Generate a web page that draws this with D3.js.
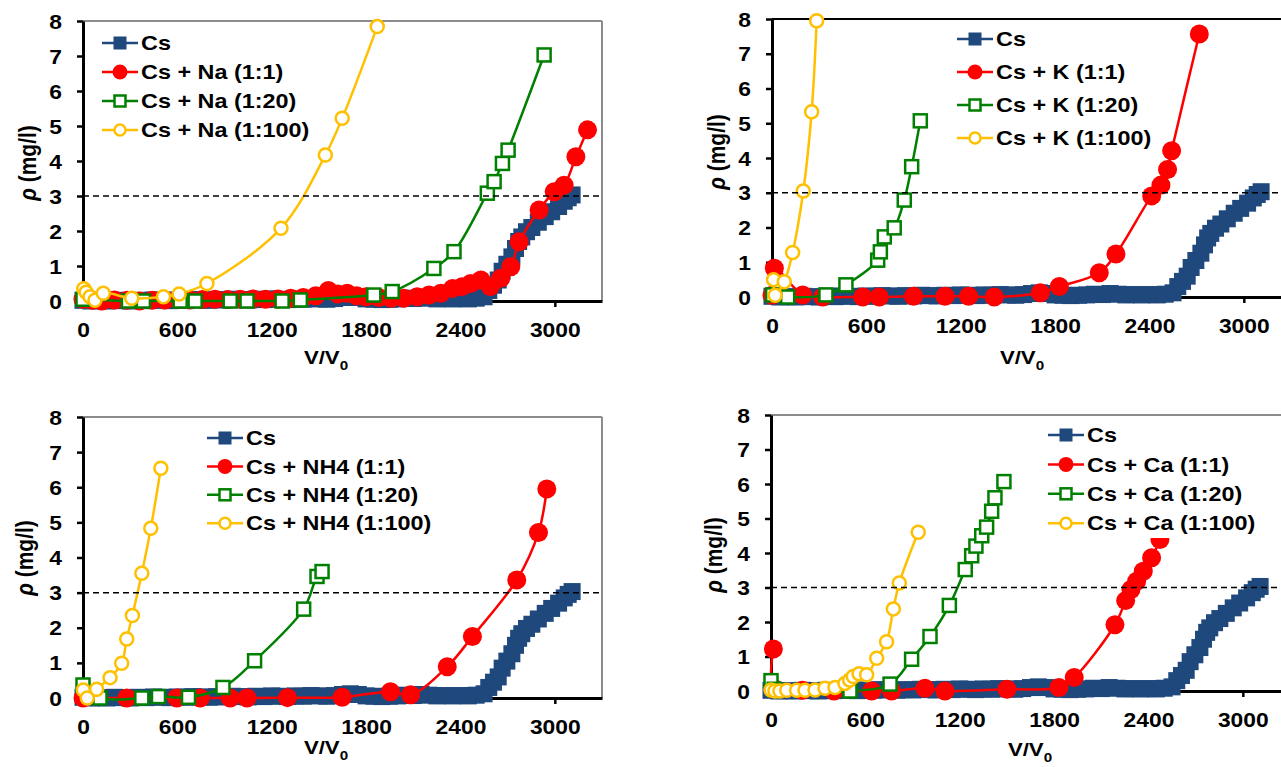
<!DOCTYPE html>
<html>
<head>
<meta charset="utf-8">
<script src="https://cdn.jsdelivr.net/npm/d3@7"></script>
<style>
  body { margin: 0; background: #fff; }
  svg text { font-family: "Liberation Sans", Arial, sans-serif; font-weight: bold; fill: #000; }
</style>
</head>
<body>
<svg id="chart" width="1281" height="767"></svg>
<script>
// the source picture is stretched a little horizontally, text follows that
const SX = 1.17;

const xTicks = [0, 600, 1200, 1800, 2400, 3000];
const yTicks = [0, 1, 2, 3, 4, 5, 6, 7, 8];
const limitLine = 3;

// Cs alone (same reference run in every panel)
const cs = [[0,0.02],[50,0],[100,0.01],[150,0],[200,0.02],[250,0.01],[300,0],[350,0.02],[400,0.01],[450,0.03],
  [500,0.02],[550,0.01],[600,0.03],[650,0.02],[700,0.04],[750,0.03],[800,0.02],[850,0.04],[900,0.03],[950,0.05],
  [1000,0.04],[1050,0.03],[1100,0.05],[1150,0.04],[1200,0.06],[1250,0.05],[1300,0.04],[1350,0.06],[1400,0.05],
  [1450,0.07],[1500,0.06],[1550,0.05],[1600,0.07],[1650,0.1],[1700,0.12],[1750,0.1],[1800,0.06],[1850,0.05],
  [1900,0.04],[1950,0.05],[2000,0.06],[2050,0.08],[2100,0.07],[2150,0.1],[2200,0.08],[2250,0.06],[2300,0.07],
  [2350,0.06],[2400,0.07],[2450,0.06],[2500,0.08],[2550,0.12],[2580,0.3],[2610,0.45],[2640,0.6],[2665,0.85],
  [2695,1.05],[2727,1.26],[2750,1.5],[2770,1.7],[2790,1.83],[2820,1.98],[2854,2.1],[2895,2.25],[2939,2.41],
  [2980,2.55],[3024,2.7],[3060,2.85],[3085,2.95],[3110,3.03]];

// Na
const na1 = [[0,0.05],[60,0.02],[120,0],[200,0.03],[280,0.02],[360,0],[440,0.02],[520,0.03],[600,0.05],[680,0.03],
  [760,0.04],[840,0.05],[920,0.04],[1000,0.05],[1080,0.06],[1160,0.05],[1240,0.06],[1320,0.08],[1400,0.1],
  [1480,0.15],[1560,0.3],[1620,0.2],[1680,0.22],[1740,0.15],[1800,0.12],[1880,0.1],[1960,0.08],[2040,0.08],
  [2125,0.12],[2200,0.17],[2275,0.22],[2350,0.36],[2410,0.41],[2465,0.5],[2530,0.6],[2590,0.41],[2656,0.65],
  [2720,0.98],[2773,1.69],[2900,2.6],[2996,3.12],[3059,3.31],[3134,4.12],[3208,4.89]];
const na20 = [[0,0.05],[289,0],[384,0],[618,0],[713,0],[936,0],[1043,0],[1266,0],[1382,0.03],[1849,0.17],
  [1966,0.27],[2231,0.93],[2359,1.41],[2571,3.08],[2614,3.41],[2667,3.93],[2703,4.31],[2932,7.03]];
const na100 = [[5,0.35],[20,0.25],[45,0.12],[76,0.02],[129,0.22],[310,0.08],[512,0.12],[611,0.2],[788,0.5],
  [1259,2.08],[1541,4.17],[1648,5.22],[1871,7.84]];

// K
const k1 = [[0,0.05],[15,0.83],[195,0.06],[322,0],[577,0],[682,0],[900,0.02],[1100,0.02],[1250,0.02],[1413,0],
  [1706,0.12],[1827,0.3],[2081,0.7],[2187,1.24],[2414,2.91],[2473,3.22],[2515,3.67],[2541,4.21],[2717,7.57]];
const k20 = [[4,0.06],[100,0],[343,0.06],[470,0.35],[672,1.06],[689,1.3],[714,1.73],[777,1.99],[841,2.79],
  [888,3.75],[943,5.07]];
const k100 = [[10,0.5],[20,0.05],[78,0.44],[131,1.28],[199,3.05],[252,5.33],[284,7.95]];

// NH4
const nh1 = [[0,0],[278,0],[597,0],[745,0],[936,0],[1043,0],[1300,0.01],[1648,0.02],[1955,0.18],[2083,0.09],
  [2316,0.89],[2476,1.75],[2758,3.36],[2896,4.71],[2949,5.95]];
const nh20 = [[0,0.37],[108,0],[374,0],[480,0.04],[671,0.02],[890,0.3],[1091,1.06],[1403,2.53],[1488,3.46],
  [1520,3.6]];
const nh100 = [[2,0.23],[27,0],[87,0.25],[172,0.58],[246,0.99],[278,1.68],[314,2.35],[374,3.55],[431,4.83],
  [495,6.54]];

// Ca
const ca1 = [[15,1.22],[18,0.08],[200,0.02],[400,0],[640,0],[767,0],[979,0.08],[1106,0],[1500,0.05],[1831,0.1],
  [1928,0.39],[2187,1.92],[2255,2.62],[2289,2.94],[2325,3.18],[2367,3.47],[2420,3.86],[2473,4.39],[2510,4.9]];
const ca20 = [[0,0.3],[20,0.05],[502,0],[757,0.2],[894,0.92],[1011,1.58],[1134,2.48],[1235,3.52],[1276,3.92],
  [1303,4.2],[1340,4.5],[1371,4.75],[1403,5.21],[1424,5.6],[1481,6.07]];
const ca100 = [[0,0.03],[25,0],[57,0],[100,0.02],[163,0.02],[216,0.02],[280,0.03],[343,0.08],[407,0.1],
  [470,0.22],[500,0.32],[523,0.42],[560,0.5],[608,0.47],[672,0.95],[735,1.43],[778,2.38],[816,3.13],[936,4.6]];

const naLabels = ['Cs', 'Cs + Na (1:1)', 'Cs + Na (1:20)', 'Cs + Na (1:100)'];
const kLabels = ['Cs', 'Cs + K (1:1)', 'Cs + K (1:20)', 'Cs + K (1:100)'];
const nhLabels = ['Cs', 'Cs + NH4 (1:1)', 'Cs + NH4 (1:20)', 'Cs + NH4 (1:100)'];
const caLabels = ['Cs', 'Cs + Ca (1:1)', 'Cs + Ca (1:20)', 'Cs + Ca (1:100)'];

// marker style per series position
const styles = [
  { color: '#1F497D', shape: 'square', fill: true, size: 17, lsize: 13 },
  { color: '#FF0000', shape: 'circle', fill: true, size: 19, lsize: 15 },
  { color: '#008000', shape: 'square', fill: false, size: 13, lsize: 11 },
  { color: '#FFC000', shape: 'circle', fill: false, size: 13, lsize: 11 }
];

const panels = [
  { left: 83, right: 602, top: 21, bottom: 301, topColor: '#8c8c8c', rightColor: '#8c8c8c',
    series: [cs, na1, na20, na100], labels: naLabels,
    legend: { x: 102, y: 43, dy: 29, box: [97, 26, 220, 120] }, yTitle: [27, 163], xTitle: [326, 364] },
  { left: 772, right: 1291, top: 19, bottom: 297, topColor: '#000', rightColor: null,
    series: [cs, k1, k20, k100], labels: kLabels,
    legend: { x: 957, y: 39, dy: 33, box: [950, 20, 205, 136] }, yTitle: [716, 152], xTitle: [1022, 364] },
  { left: 83, right: 602, top: 417, bottom: 698, topColor: '#8c8c8c', rightColor: '#8c8c8c',
    series: [cs, nh1, nh20, nh100], labels: nhLabels,
    legend: { x: 207, y: 438, dy: 28.4, box: [202, 421, 238, 118] }, yTitle: [24, 558], xTitle: [326, 754] },
  { left: 771, right: 1290, top: 415, bottom: 691, topColor: '#8c8c8c', rightColor: null,
    series: [cs, ca1, ca20, ca100], labels: caLabels,
    legend: { x: 1048, y: 435, dy: 29.4, box: [1042, 419, 239, 119] }, yTitle: [713, 555], xTitle: [1030, 756] }
];

const svg = d3.select('#chart');

function drawMarker(sel, st, cx, cy, size) {
  const sw = st.fill ? 0 : 2.5;
  if (st.shape === 'square') {
    sel.append('rect')
      .attr('x', cx - size / 2).attr('y', cy - size / 2)
      .attr('width', size).attr('height', size)
      .attr('fill', st.fill ? st.color : '#fff')
      .attr('stroke', st.fill ? 'none' : st.color).attr('stroke-width', sw);
  } else {
    sel.append('circle')
      .attr('cx', cx).attr('cy', cy).attr('r', size / 2)
      .attr('fill', st.fill ? st.color : '#fff')
      .attr('stroke', st.fill ? 'none' : st.color).attr('stroke-width', sw);
  }
}

panels.forEach(p => {
  const g = svg.append('g');
  const x = d3.scaleLinear().domain([0, 3300]).range([p.left, p.right]);
  const y = d3.scaleLinear().domain([0, 8]).range([p.bottom, p.top]);

  // frame
  g.append('line').attr('x1', p.left).attr('x2', p.right).attr('y1', p.top).attr('y2', p.top)
    .attr('stroke', p.topColor).attr('stroke-width', 2);
  if (p.rightColor) {
    g.append('line').attr('x1', p.right).attr('x2', p.right).attr('y1', p.top).attr('y2', p.bottom)
      .attr('stroke', p.rightColor).attr('stroke-width', 2);
  }

  const xa = g.append('g').attr('transform', `translate(0,${p.bottom})`)
    .call(d3.axisBottom(x).tickValues(xTicks).tickSize(6).tickSizeOuter(0).tickFormat(d3.format('d')));
  xa.select('.domain').attr('stroke', '#000').attr('stroke-width', 3);
  xa.selectAll('.tick line').attr('stroke', '#000').attr('stroke-width', 2.5);
  xa.selectAll('.tick text')
    .attr('y', 22).attr('dy', '0.71em')
    .attr('transform', `scale(${SX},1)`)
    .style('font-size', '19.5px');

  const ya = g.append('g').attr('transform', `translate(${p.left},0)`)
    .call(d3.axisLeft(y).tickValues(yTicks).tickSize(6).tickSizeOuter(0).tickFormat(d3.format('d')));
  ya.select('.domain').attr('stroke', '#000').attr('stroke-width', 3);
  ya.selectAll('.tick line').attr('stroke', '#000').attr('stroke-width', 2.5);
  ya.selectAll('.tick text')
    .attr('x', -21 / SX).attr('dy', '0.36em')
    .attr('transform', `scale(${SX},1)`)
    .style('font-size', '19.5px');

  // series
  const line = d3.line()
    .x(d => x(d[0])).y(d => y(d[1]))
    .curve(d3.curveCatmullRom.alpha(0.5));

  p.series.forEach((data, i) => {
    const st = styles[i];
    const sg = g.append('g');
    sg.append('path').datum(data)
      .attr('d', line)
      .attr('fill', 'none')
      .attr('stroke', st.color)
      .attr('stroke-width', 2.5);
    data.forEach(d => drawMarker(sg, st, x(d[0]), y(d[1]), st.size));
  });

  // 3 mg/l limit
  g.append('line')
    .attr('x1', p.left).attr('x2', Math.min(p.right, 1281))
    .attr('y1', y(limitLine)).attr('y2', y(limitLine))
    .attr('stroke', '#000').attr('stroke-width', 1.5)
    .attr('stroke-dasharray', '6,4');

  // legend
  const lg = g.append('g');
  const b = p.legend.box;
  lg.append('rect').attr('x', b[0]).attr('y', b[1]).attr('width', b[2]).attr('height', b[3]).attr('fill', '#fff');
  p.labels.forEach((lab, i) => {
    const st = styles[i];
    const ly = p.legend.y + i * p.legend.dy;
    lg.append('line')
      .attr('x1', p.legend.x).attr('x2', p.legend.x + 36)
      .attr('y1', ly).attr('y2', ly)
      .attr('stroke', st.color).attr('stroke-width', 2.5);
    drawMarker(lg, st, p.legend.x + 18, ly, st.lsize);
    lg.append('text')
      .attr('transform', `translate(${p.legend.x + 39},${ly}) scale(${SX},1)`)
      .attr('dy', '0.36em')
      .style('font-size', '20px')
      .text(lab);
  });

  // axis titles
  const xt = g.append('text')
    .attr('transform', `translate(${p.xTitle[0]},${p.xTitle[1]}) scale(${SX},1)`)
    .attr('text-anchor', 'middle')
    .style('font-size', '19px');
  xt.append('tspan').text('V/V');
  xt.append('tspan').attr('dy', 6).style('font-size', '13px').text('0');

  const yt = g.append('text')
    .attr('transform', `translate(${p.yTitle[0]},${p.yTitle[1]}) scale(${SX},1) rotate(-90)`)
    .attr('text-anchor', 'middle')
    .attr('dy', '0.35em')
    .style('font-size', '21px');
  yt.append('tspan').style('font-style', 'italic').text('ρ');
  yt.append('tspan').text(' (mg/l)');
});
</script>
</body>
</html>
